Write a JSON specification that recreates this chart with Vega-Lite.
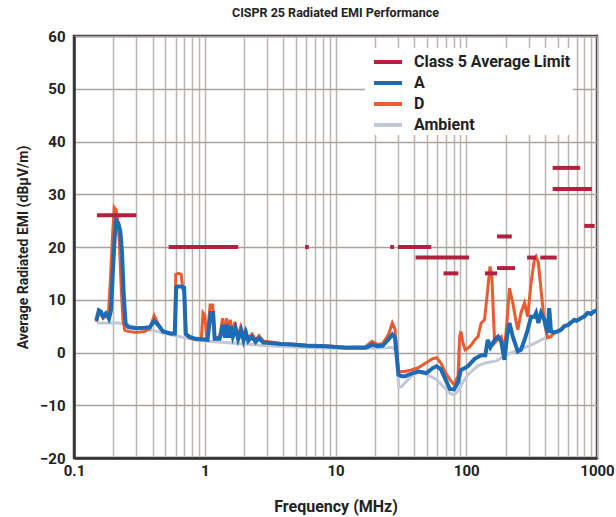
{
  "$schema": "https://vega.github.io/schema/vega-lite/v6.json",
  "width": 523,
  "height": 422,
  "autosize": {"type": "none"},
  "padding": {"left": 74, "top": 36, "right": 19, "bottom": 59},
  "background": "white",
  "title": {"text": "CISPR 25 Radiated EMI Performance", "frame": "group", "anchor": "middle", "offset": 10, "fontSize": 12.5, "font": "Roboto", "fontWeight": "bold", "color": "#222"},
  "config": {
    "view": {"stroke": "#333", "strokeWidth": 2.5},
    "font": "Roboto"
  },
  "datasets": {
    "limit": [
      {"s": "Class 5 Average Limit", "g": "L1", "f": 0.15, "v": 26}, {"s": "Class 5 Average Limit", "g": "L1", "f": 0.3, "v": 26},
      {"s": "Class 5 Average Limit", "g": "L2", "f": 0.53, "v": 20}, {"s": "Class 5 Average Limit", "g": "L2", "f": 1.8, "v": 20},
      {"s": "Class 5 Average Limit", "g": "L3", "f": 5.85, "v": 20}, {"s": "Class 5 Average Limit", "g": "L3", "f": 6.25, "v": 20},
      {"s": "Class 5 Average Limit", "g": "L4", "f": 26.2, "v": 20}, {"s": "Class 5 Average Limit", "g": "L4", "f": 28, "v": 20},
      {"s": "Class 5 Average Limit", "g": "L5", "f": 30, "v": 20}, {"s": "Class 5 Average Limit", "g": "L5", "f": 54, "v": 20},
      {"s": "Class 5 Average Limit", "g": "L6", "f": 41, "v": 18}, {"s": "Class 5 Average Limit", "g": "L6", "f": 105, "v": 18},
      {"s": "Class 5 Average Limit", "g": "L7", "f": 67, "v": 15}, {"s": "Class 5 Average Limit", "g": "L7", "f": 87, "v": 15},
      {"s": "Class 5 Average Limit", "g": "L8", "f": 139, "v": 15}, {"s": "Class 5 Average Limit", "g": "L8", "f": 172, "v": 15},
      {"s": "Class 5 Average Limit", "g": "L9", "f": 172, "v": 16}, {"s": "Class 5 Average Limit", "g": "L9", "f": 236, "v": 16},
      {"s": "Class 5 Average Limit", "g": "L10", "f": 172, "v": 22}, {"s": "Class 5 Average Limit", "g": "L10", "f": 223, "v": 22},
      {"s": "Class 5 Average Limit", "g": "L11", "f": 292, "v": 18}, {"s": "Class 5 Average Limit", "g": "L11", "f": 342, "v": 18},
      {"s": "Class 5 Average Limit", "g": "L12", "f": 368, "v": 18}, {"s": "Class 5 Average Limit", "g": "L12", "f": 492, "v": 18},
      {"s": "Class 5 Average Limit", "g": "L13", "f": 458, "v": 35}, {"s": "Class 5 Average Limit", "g": "L13", "f": 743, "v": 35},
      {"s": "Class 5 Average Limit", "g": "L14", "f": 458, "v": 31}, {"s": "Class 5 Average Limit", "g": "L14", "f": 913, "v": 31},
      {"s": "Class 5 Average Limit", "g": "L15", "f": 800, "v": 24}, {"s": "Class 5 Average Limit", "g": "L15", "f": 960, "v": 24}
    ],
    "amb": [
      {"f": 0.15, "v": 5.6}, {"f": 0.22, "v": 5.6}, {"f": 0.3, "v": 4.8}, {"f": 0.4, "v": 4.2}, {"f": 0.5, "v": 3.6},
      {"f": 0.7, "v": 2.8}, {"f": 1.0, "v": 2.2}, {"f": 2, "v": 1.6}, {"f": 3, "v": 1.3}, {"f": 5, "v": 1.0},
      {"f": 10, "v": 0.8}, {"f": 20, "v": 0.8}, {"f": 25, "v": 0.9}, {"f": 27, "v": 1.0}, {"f": 29, "v": 0.4},
      {"f": 30.5, "v": -6.5}, {"f": 32, "v": -6.5}, {"f": 34, "v": -5.7}, {"f": 38, "v": -4.5}, {"f": 43, "v": -3.6},
      {"f": 50, "v": -4.2}, {"f": 59, "v": -5.1}, {"f": 66, "v": -6.3}, {"f": 75, "v": -7.7}, {"f": 80, "v": -8},
      {"f": 86, "v": -7.4}, {"f": 95, "v": -5.5}, {"f": 103, "v": -4.2}, {"f": 123, "v": -2.5}, {"f": 140, "v": -2.0},
      {"f": 170, "v": -1.6}, {"f": 200, "v": -0.5}, {"f": 250, "v": 0.5}, {"f": 300, "v": 1.2}, {"f": 350, "v": 2.0},
      {"f": 420, "v": 3.0}, {"f": 500, "v": 4.0}, {"f": 560, "v": 4.8}, {"f": 670, "v": 6.0}, {"f": 850, "v": 7.3},
      {"f": 950, "v": 7.7}
    ],
    "a": [
      {"f": 0.148, "v": 6.0}, {"f": 0.155, "v": 8.0}, {"f": 0.16, "v": 7.8}, {"f": 0.167, "v": 6.8}, {"f": 0.175, "v": 7.4},
      {"f": 0.185, "v": 6.4}, {"f": 0.192, "v": 8}, {"f": 0.198, "v": 15}, {"f": 0.205, "v": 22}, {"f": 0.21, "v": 25},
      {"f": 0.218, "v": 24.5}, {"f": 0.226, "v": 23}, {"f": 0.233, "v": 19}, {"f": 0.24, "v": 11}, {"f": 0.248, "v": 5.5},
      {"f": 0.26, "v": 4.8}, {"f": 0.3, "v": 4.6}, {"f": 0.35, "v": 4.7}, {"f": 0.38, "v": 4.8}, {"f": 0.41, "v": 6.0},
      {"f": 0.44, "v": 5.2}, {"f": 0.48, "v": 4.0}, {"f": 0.55, "v": 3.6}, {"f": 0.59, "v": 3.6}, {"f": 0.605, "v": 12.3},
      {"f": 0.62, "v": 12.5}, {"f": 0.66, "v": 12.5}, {"f": 0.695, "v": 12.3}, {"f": 0.715, "v": 3.5}, {"f": 0.76, "v": 3.0},
      {"f": 0.85, "v": 2.6}, {"f": 0.95, "v": 2.5}, {"f": 1.05, "v": 2.4}, {"f": 1.11, "v": 7.5}, {"f": 1.16, "v": 7.5},
      {"f": 1.19, "v": 2.6}, {"f": 1.3, "v": 2.6}, {"f": 1.38, "v": 5.2}, {"f": 1.43, "v": 2.8}, {"f": 1.48, "v": 5.3},
      {"f": 1.53, "v": 2.8}, {"f": 1.58, "v": 5.0}, {"f": 1.64, "v": 3.0}, {"f": 1.72, "v": 4.6}, {"f": 1.8, "v": 2.5},
      {"f": 1.9, "v": 4.2}, {"f": 1.98, "v": 2.3}, {"f": 2.06, "v": 3.8}, {"f": 2.15, "v": 2.2}, {"f": 2.3, "v": 3.0},
      {"f": 2.45, "v": 2.0}, {"f": 2.6, "v": 2.7}, {"f": 2.8, "v": 1.9}, {"f": 3.2, "v": 1.8}, {"f": 3.8, "v": 1.6},
      {"f": 4.6, "v": 1.5}, {"f": 6, "v": 1.3}, {"f": 8.4, "v": 1.2}, {"f": 12, "v": 0.9}, {"f": 17, "v": 0.9},
      {"f": 19, "v": 1.5}, {"f": 21, "v": 1.2}, {"f": 23, "v": 1.3}, {"f": 25.5, "v": 2.5}, {"f": 27.2, "v": 3.4},
      {"f": 28.5, "v": 2.8}, {"f": 30.3, "v": -4.2}, {"f": 32, "v": -4.5}, {"f": 34, "v": -4.5}, {"f": 38, "v": -4.0},
      {"f": 43, "v": -3.6}, {"f": 49.7, "v": -3.9}, {"f": 55, "v": -3.0}, {"f": 59.3, "v": -2.6}, {"f": 64, "v": -3.2},
      {"f": 68.6, "v": -4.8}, {"f": 74.8, "v": -6.9}, {"f": 80.7, "v": -7.0}, {"f": 86.5, "v": -5.7}, {"f": 91, "v": -3.3},
      {"f": 97, "v": -3.0}, {"f": 103, "v": -2.6}, {"f": 116, "v": -1.2}, {"f": 130, "v": -0.5}, {"f": 140, "v": -0.5},
      {"f": 146, "v": 2.4}, {"f": 153, "v": 1.0}, {"f": 165, "v": 2.4}, {"f": 175, "v": 3.0}, {"f": 185, "v": 2.1},
      {"f": 196, "v": -1.4}, {"f": 205, "v": 3.0}, {"f": 214, "v": 5.6}, {"f": 227, "v": 3.0}, {"f": 248, "v": 0.2},
      {"f": 262, "v": 0.5}, {"f": 279, "v": 2.4}, {"f": 295, "v": 4.3}, {"f": 313, "v": 6.8}, {"f": 332, "v": 6.8},
      {"f": 342, "v": 7.5}, {"f": 356, "v": 5.6}, {"f": 373, "v": 7.5}, {"f": 396, "v": 6.2}, {"f": 419, "v": 3.7},
      {"f": 431, "v": 8.4}, {"f": 445, "v": 4.0}, {"f": 470, "v": 3.8}, {"f": 500, "v": 4.0}, {"f": 530, "v": 4.3},
      {"f": 562, "v": 5.0}, {"f": 600, "v": 5.2}, {"f": 670, "v": 6.2}, {"f": 700, "v": 6.0}, {"f": 752, "v": 6.5},
      {"f": 800, "v": 6.8}, {"f": 845, "v": 7.5}, {"f": 900, "v": 7.3}, {"f": 950, "v": 7.8}, {"f": 1000, "v": 8.0}
    ],
    "d": [
      {"f": 0.148, "v": 5.8}, {"f": 0.155, "v": 7.5}, {"f": 0.16, "v": 7.3}, {"f": 0.167, "v": 6.5}, {"f": 0.175, "v": 7.0},
      {"f": 0.183, "v": 7.0}, {"f": 0.19, "v": 14}, {"f": 0.197, "v": 22}, {"f": 0.203, "v": 27.5}, {"f": 0.21, "v": 27},
      {"f": 0.216, "v": 25}, {"f": 0.222, "v": 21}, {"f": 0.23, "v": 12}, {"f": 0.237, "v": 6}, {"f": 0.245, "v": 4.2},
      {"f": 0.26, "v": 4.0}, {"f": 0.3, "v": 3.8}, {"f": 0.35, "v": 4.0}, {"f": 0.38, "v": 4.5}, {"f": 0.41, "v": 7.0},
      {"f": 0.44, "v": 5.5}, {"f": 0.48, "v": 4.0}, {"f": 0.55, "v": 3.5}, {"f": 0.59, "v": 3.5}, {"f": 0.6, "v": 14.8},
      {"f": 0.63, "v": 15}, {"f": 0.66, "v": 14.8}, {"f": 0.68, "v": 12}, {"f": 0.7, "v": 11.5}, {"f": 0.72, "v": 3.5},
      {"f": 0.76, "v": 2.8}, {"f": 0.85, "v": 2.4}, {"f": 0.94, "v": 2.4}, {"f": 0.97, "v": 7.5}, {"f": 1.0, "v": 7.0},
      {"f": 1.04, "v": 2.5}, {"f": 1.1, "v": 9}, {"f": 1.15, "v": 9}, {"f": 1.19, "v": 2.7}, {"f": 1.3, "v": 3},
      {"f": 1.37, "v": 6.5}, {"f": 1.42, "v": 3.2}, {"f": 1.47, "v": 6.5}, {"f": 1.52, "v": 3.3}, {"f": 1.57, "v": 6.2},
      {"f": 1.63, "v": 3.3}, {"f": 1.7, "v": 5.8}, {"f": 1.78, "v": 3.0}, {"f": 1.88, "v": 4.8}, {"f": 1.96, "v": 2.8},
      {"f": 2.05, "v": 4.5}, {"f": 2.13, "v": 2.6}, {"f": 2.3, "v": 3.5}, {"f": 2.45, "v": 2.4}, {"f": 2.6, "v": 3.2},
      {"f": 2.8, "v": 2.2}, {"f": 3.2, "v": 2.0}, {"f": 3.8, "v": 1.7}, {"f": 4.6, "v": 1.6}, {"f": 6, "v": 1.4},
      {"f": 8.4, "v": 1.3}, {"f": 12, "v": 1.0}, {"f": 17, "v": 1.1}, {"f": 19, "v": 2.1}, {"f": 21, "v": 1.5},
      {"f": 23, "v": 1.7}, {"f": 25.5, "v": 3.5}, {"f": 27.2, "v": 5.6}, {"f": 28.5, "v": 4.5}, {"f": 30.3, "v": -3.6},
      {"f": 34, "v": -3.6}, {"f": 38, "v": -3.3}, {"f": 43, "v": -2.9}, {"f": 49.7, "v": -1.9}, {"f": 55, "v": -1.2},
      {"f": 59.3, "v": -1.0}, {"f": 64, "v": -2.0}, {"f": 68.6, "v": -3.6}, {"f": 74.8, "v": -5.1}, {"f": 80.7, "v": -6.1},
      {"f": 86.5, "v": -4.5}, {"f": 89, "v": 3.0}, {"f": 91, "v": 4.0}, {"f": 94, "v": 2.0}, {"f": 98, "v": 0.5},
      {"f": 103, "v": 0.8}, {"f": 110, "v": 1.5}, {"f": 116, "v": 2.4}, {"f": 123, "v": 3.0}, {"f": 130, "v": 5.6},
      {"f": 138, "v": 6.2}, {"f": 146, "v": 12}, {"f": 152, "v": 16.3}, {"f": 157, "v": 14.4}, {"f": 162, "v": 6},
      {"f": 165, "v": 1.8}, {"f": 175, "v": 2.5}, {"f": 185, "v": 3.0}, {"f": 196, "v": 0.5}, {"f": 205, "v": 6},
      {"f": 214, "v": 12.2}, {"f": 227, "v": 9.4}, {"f": 240, "v": 6}, {"f": 248, "v": 4.3}, {"f": 262, "v": 7.5},
      {"f": 279, "v": 9.4}, {"f": 295, "v": 6.8}, {"f": 313, "v": 13.2}, {"f": 332, "v": 17.6}, {"f": 342, "v": 18.2},
      {"f": 356, "v": 17.0}, {"f": 373, "v": 11.9}, {"f": 396, "v": 5.6}, {"f": 419, "v": 2.8}, {"f": 445, "v": 3.0},
      {"f": 470, "v": 3.7}, {"f": 500, "v": 3.9}, {"f": 562, "v": 4.9}, {"f": 670, "v": 6.1}, {"f": 752, "v": 6.4},
      {"f": 845, "v": 7.4}, {"f": 950, "v": 7.7}, {"f": 1000, "v": 7.9}
    ]
  },
  "encoding": {
    "x": {
      "field": "f", "type": "quantitative",
      "scale": {"type": "log", "domain": [0.1, 1000], "nice": false},
      "axis": {
        "title": "Frequency (MHz)",
        "values": [0.1,0.2,0.3,0.4,0.5,0.6,0.7,0.8,0.9,1,2,3,4,5,6,7,8,9,10,20,30,40,50,60,70,80,90,100,200,300,400,500,600,700,800,900,1000],
        "labelExpr": "indexof(['0.1','1','10','100','1000'], format(datum.value, '~g')) >= 0 ? format(datum.value, '~g') : ''",
        "grid": true, "gridColor": "#bdb5b1", "gridWidth": 1.5, "gridOpacity": 1,
        "ticks": false, "domainColor": "#333", "domainWidth": 2.5,
        "labelFontSize": 15, "labelFontWeight": "bold", "labelColor": "#222", "labelPadding": 5, "labelFlush": false,
        "titleFontSize": 16, "titleFontWeight": "bold", "titleColor": "#222", "titlePadding": 20
      }
    },
    "y": {
      "field": "v", "type": "quantitative",
      "scale": {"domain": [-20, 60], "nice": false},
      "axis": {
        "title": "Average Radiated EMI (dBµV/m)",
        "values": [-20,-10,0,10,20,30,40,50,60],
        "grid": true, "gridColor": "#aaa29e", "gridWidth": 1.5, "gridOpacity": 1,
        "ticks": false, "domainColor": "#333", "domainWidth": 2.5,
        "labelFontSize": 15, "labelFontWeight": "bold", "labelColor": "#222", "labelPadding": 9,
        "titleFontSize": 14, "titleFontWeight": "bold", "titleColor": "#222", "titlePadding": 9
      }
    },
    "color": {
      "field": "s", "type": "nominal",
      "scale": {"domain": ["Class 5 Average Limit", "A", "D", "Ambient"], "range": ["#b0223f", "#1c6cb5", "#ec5a2f", "#c3c8d6"]},
      "legend": {
        "title": null, "orient": "none", "legendX": 291, "legendY": 12,
        "symbolType": "M-1.4,0H1.4", "symbolSize": 400, "symbolStrokeWidth": 4, "symbolOffset": 9,
        "labelFontSize": 16, "labelFontWeight": "bold", "labelColor": "#222", "labelOffset": 14,
        "rowPadding": 1, "padding": 2, "fillColor": "white", "strokeColor": null
      }
    }
  },
  "layer": [
    {"data": {"name": "amb"}, "transform": [{"calculate": "'Ambient'", "as": "s"}], "mark": {"type": "line", "strokeWidth": 3, "clip": true}},
    {"data": {"name": "d"}, "transform": [{"calculate": "'D'", "as": "s"}], "mark": {"type": "line", "strokeWidth": 3, "clip": true}},
    {"data": {"name": "a"}, "transform": [{"calculate": "'A'", "as": "s"}], "mark": {"type": "line", "strokeWidth": 4, "clip": true}},
    {"data": {"name": "limit"}, "mark": {"type": "line", "strokeWidth": 4, "strokeCap": "butt", "clip": true}, "encoding": {"detail": {"field": "g"}}}
  ]
}
